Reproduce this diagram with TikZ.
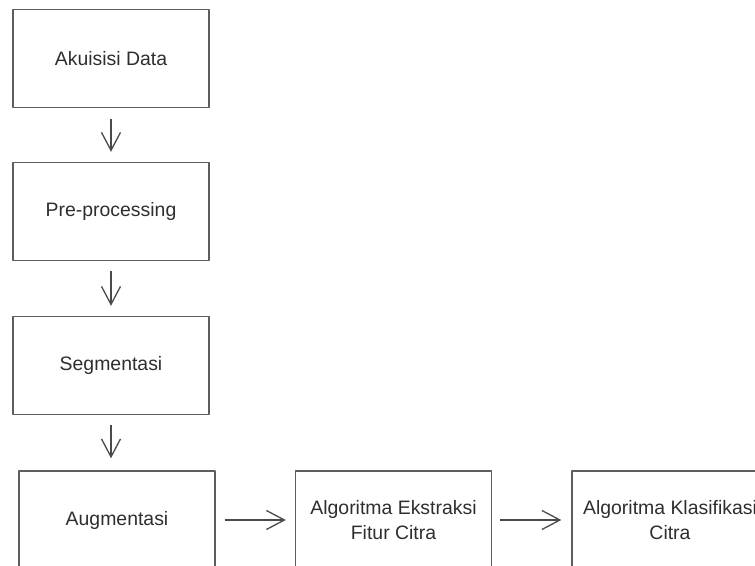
\documentclass[tikz,border=0pt]{standalone}
\usepackage{fontspec}
\setmainfont{Liberation Sans}
\usetikzlibrary{arrows.meta}
\definecolor{boxgray}{HTML}{5E5E5E}
\definecolor{arrowgray}{HTML}{4A4A4A}
\definecolor{textgray}{HTML}{2E2E2E}

\begin{document}
\begin{tikzpicture}[>={Straight Barb[length=18bp,width=19bp]},line join=bevel,
  procbox/.style={draw=boxgray,line width=1.4bp,minimum width=196bp,minimum height=98bp,
    inner sep=0pt,align=center,text=textgray,font=\fontsize{19.5}{25}\selectfont},
  flow/.style={->,draw=arrowgray,line width=1.3bp}]
%%
\useasboundingbox (0bp,0bp) rectangle (755bp,566bp);
\clip (0bp,0bp) rectangle (755bp,566bp);
\node (node_akuisisi) at (111bp,507.5bp) [procbox] {Akuisisi Data};
  \node (node_pre) at (111bp,354.5bp) [procbox] {Pre-processing};
  \node (node_seg) at (111bp,200.5bp) [procbox] {Segmentasi};
  \node (node_aug) at (117bp,46bp) [procbox] {Augmentasi};
  \node (node_fitur) at (393.5bp,46bp) [procbox] {Algoritma Ekstraksi\\Fitur Citra};
  \node (node_klas) at (670bp,46bp) [procbox] {Algoritma Klasifikasi\\Citra};
  \draw [flow,shorten <=11bp,shorten >=10bp] (node_akuisisi) -- (node_pre);
  \draw [flow,shorten <=10bp,shorten >=10bp] (node_pre) -- (node_seg);
  \draw [flow,shorten <=10bp,shorten >=12bp] (node_seg.south) -- (node_seg.south |- node_aug.north);
  \draw [flow,shorten <=9bp,shorten >=9bp] (node_aug) -- (node_fitur);
  \draw [flow,shorten <=8bp,shorten >=10bp] (node_fitur) -- (node_klas);
%
\end{tikzpicture}
\end{document}
